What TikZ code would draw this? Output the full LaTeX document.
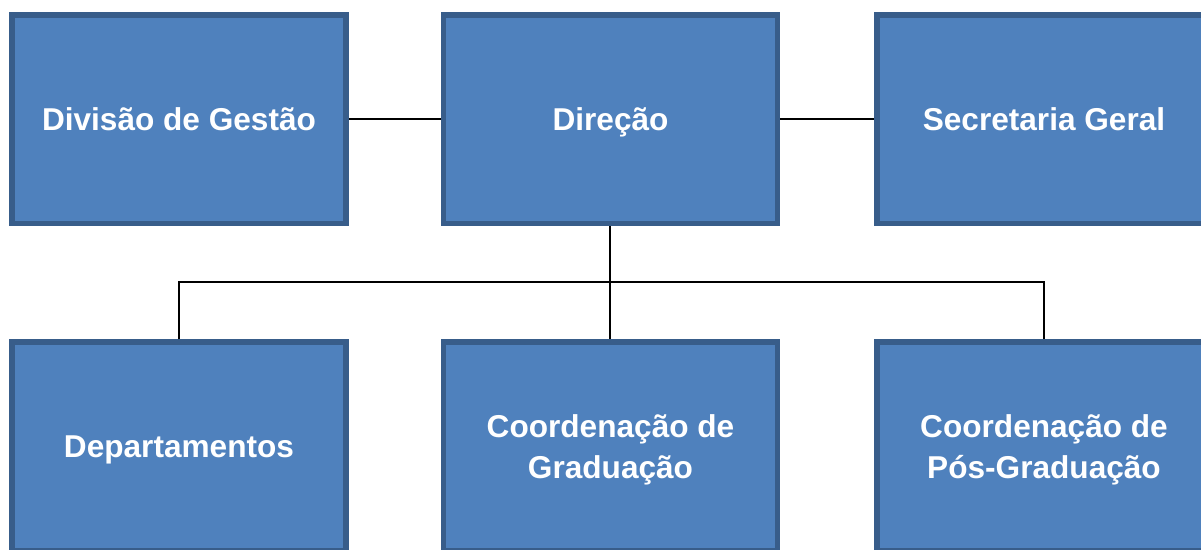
\documentclass[tikz,border=0pt]{standalone}
\usepackage{fontspec}
\setsansfont{Liberation Sans}
\definecolor{boxfill}{HTML}{4F81BD}
\definecolor{boxline}{HTML}{385D8A}
\tikzset{
  unit/.style={draw=boxline, fill=boxfill, line width=5.5pt, rectangle,
    minimum width=334pt, minimum height=208.5pt, inner sep=0pt, text depth=0pt,
    text=white, align=center, font=\sffamily\bfseries\fontsize{31.6}{41}\selectfont},
  link/.style={line width=1.6pt, black}
}
\begin{document}
\begin{tikzpicture}[x=1pt,y=-1pt]
    \useasboundingbox (0,0) rectangle (1201,549);
    \clip (0,0) rectangle (1201,549);

    % upper row
    \node[unit] (div) at (179,119.25) {Divisão de Gestão};
    \node[unit] (dir) at (610.5,119.25) {Direção};
    \node[unit] (sec) at (1044,119.25) {Secretaria Geral};

    % lower row
    \node[unit] (dep) at (179,446.25) {Departamentos};
    \node[unit] (cgr) at (610.5,446.25) {Coordenação de\\Graduação};
    \node[unit] (cpg) at (1044,446.25) {Coordenação de\\Pós-Graduação};

    \coordinate (bus) at (610,282);

    \draw[link] (div.east) -- (dir.west);
    \draw[link] (dir.east) -- (sec.west);
    \draw[link] (dir.south -| bus) -- (cgr.north -| bus);
    \draw[link] (dep.north) -- (dep.north |- bus) -| (cpg.north);
    
\end{tikzpicture}
\end{document}
